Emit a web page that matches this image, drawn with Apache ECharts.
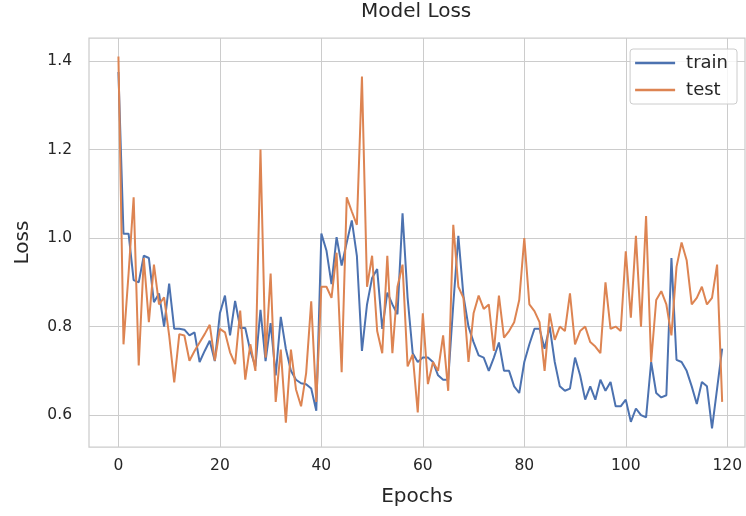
<!DOCTYPE html>
<html>
<head>
<meta charset="utf-8">
<script src="https://cdn.jsdelivr.net/npm/echarts@6/dist/echarts.min.js"></script>
<style>
html,body{margin:0;padding:0;background:#fff;}
#chart{width:746px;height:516px;}
</style>
</head>
<body>
<div id="chart"></div>
<script>
var epochs = [];
for (var i = 0; i < 120; i++) epochs.push(i);

var train = [
1.375,1.01,1.01,0.905,0.90,0.96,0.955,0.855,0.875,0.80,
0.897,0.795,0.795,0.793,0.78,0.787,0.72,0.745,0.768,0.722,
0.83,0.87,0.78,0.858,0.797,0.797,0.745,0.71,0.838,0.722,
0.808,0.69,0.822,0.75,0.70,0.68,0.672,0.67,0.66,0.61,
1.01,0.972,0.896,1.002,0.938,0.99,1.04,0.96,0.745,0.85,
0.91,0.93,0.795,0.877,0.85,0.828,1.056,0.865,0.74,0.72,
0.73,0.73,0.72,0.69,0.68,0.68,0.85,1.005,0.87,0.80,
0.765,0.735,0.73,0.70,0.73,0.764,0.70,0.70,0.665,0.65,
0.72,0.76,0.795,0.795,0.75,0.80,0.72,0.665,0.655,0.66,
0.73,0.69,0.635,0.665,0.635,0.68,0.655,0.675,0.62,0.62,
0.635,0.585,0.615,0.60,0.595,0.72,0.65,0.64,0.645,0.955,
0.725,0.72,0.70,0.665,0.625,0.675,0.665,0.57,0.66,0.75
];

var test = [
1.41,0.76,0.92,1.092,0.712,0.955,0.81,0.94,0.85,0.866,
0.78,0.674,0.783,0.78,0.723,0.745,0.764,0.783,0.804,0.723,
0.795,0.787,0.742,0.715,0.836,0.68,0.76,0.70,1.20,0.73,
0.92,0.63,0.748,0.583,0.748,0.658,0.62,0.695,0.857,0.63,
0.89,0.89,0.865,0.967,0.697,1.092,1.06,1.03,1.365,0.89,
0.96,0.79,0.74,0.96,0.74,0.89,0.94,0.71,0.737,0.606,
0.83,0.67,0.72,0.70,0.78,0.655,1.03,0.89,0.865,0.72,
0.83,0.87,0.84,0.85,0.745,0.87,0.775,0.79,0.81,0.86,
1.0,0.85,0.835,0.81,0.70,0.83,0.77,0.80,0.79,0.875,
0.76,0.79,0.80,0.765,0.755,0.74,0.90,0.795,0.80,0.79,
0.97,0.82,1.005,0.80,1.05,0.72,0.86,0.88,0.85,0.78,
0.935,0.99,0.95,0.85,0.865,0.89,0.85,0.865,0.94,0.63
];

var xTicks = [0, 20, 40, 60, 80, 100, 120];
var yTicks = [0.6, 0.8, 1.0, 1.2, 1.4];

function pairs(ys) {
  return ys.map(function (v, i) { return [epochs[i], v]; });
}

var font = 'DejaVu Sans';
var textColor = '#262626';
var gridColor = '#cccccc';

var chart = echarts.init(document.getElementById('chart'), null, {renderer: 'canvas'});
chart.setOption({
  animation: false,
  backgroundColor: '#ffffff',
  title: {
    text: 'Model Loss',
    left: 361,
    top: 2,
    padding: 0,
    textStyle: {fontFamily: font, fontSize: 20, fontWeight: 'normal', color: textColor}
  },
  legend: {
    orient: 'vertical',
    right: 9,
    top: 49,
    padding: [5, 9, 5, 5],
    itemGap: 9,
    itemWidth: 40,
    itemHeight: 2.5,
    icon: 'rect',
    backgroundColor: 'rgba(255,255,255,0.8)',
    borderColor: gridColor,
    borderWidth: 1,
    borderRadius: 3,
    textStyle: {fontFamily: font, fontSize: 18, color: textColor, padding: [0, 0, 0, 6]},
    data: ['train', 'test']
  },
  grid: {
    left: 89, right: 1, top: 38, bottom: 69,
    show: true,
    borderColor: gridColor,
    borderWidth: 1.25,
    containLabel: false
  },
  xAxis: {
    type: 'value',
    min: -5.8,
    max: 123.5,
    name: 'Epochs',
    nameLocation: 'middle',
    nameGap: 40,
    nameTextStyle: {fontFamily: font, fontSize: 20, color: textColor},
    axisLine: {show: false},
    axisTick: {show: false, customValues: xTicks},
    axisLabel: {customValues: xTicks, fontFamily: font, fontSize: 15.5, color: textColor, margin: 11},
    splitLine: {show: true, lineStyle: {color: gridColor, width: 1}}
  },
  yAxis: {
    type: 'value',
    min: 0.528,
    max: 1.452,
    name: 'Loss',
    nameLocation: 'middle',
    nameGap: 56,
    nameTextStyle: {fontFamily: font, fontSize: 20, color: textColor},
    axisLine: {show: false},
    axisTick: {show: false, customValues: yTicks},
    axisLabel: {
      customValues: yTicks, fontFamily: font, fontSize: 15.5, color: textColor, margin: 17,
      formatter: function (v) { return v.toFixed(1); }
    },
    splitLine: {show: true, lineStyle: {color: gridColor, width: 1}}
  },
  series: [
    {
      name: 'train', type: 'line', data: pairs(train), showSymbol: false,
      lineStyle: {color: '#4c72b0', width: 2}, itemStyle: {color: '#4c72b0'}, z: 3
    },
    {
      name: 'test', type: 'line', data: pairs(test), showSymbol: false,
      lineStyle: {color: '#dd8452', width: 2}, itemStyle: {color: '#dd8452'}, z: 4
    }
  ]
});
</script>
</body>
</html>
